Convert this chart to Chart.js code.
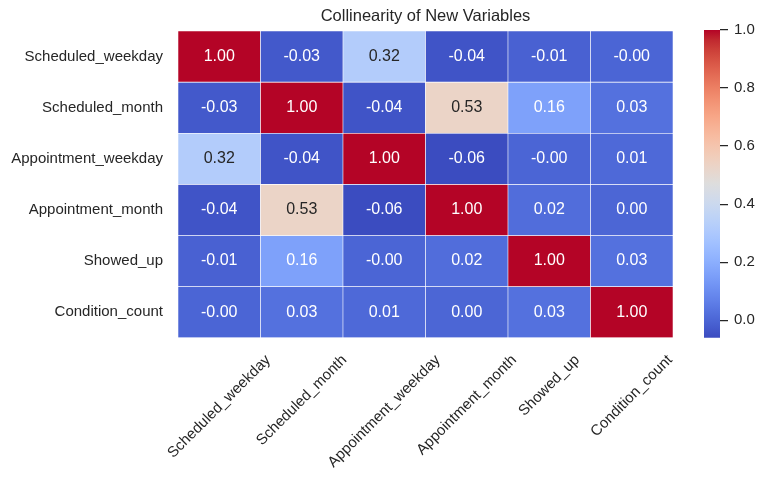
<!DOCTYPE html>
<html>
<head>
<meta charset="utf-8">
<script src="https://cdn.jsdelivr.net/npm/chart.js@4.4.1/dist/chart.umd.min.js"></script>
<style>
    body { margin: 0; background: #fff; }
    #wrap { position: relative; width: 764px; height: 480px; }
    #heat { position: absolute; left: 0; top: 0; }
    #cbar { position: absolute; left: 704px; top: 0; }
</style>
</head>
<body>
<div id="wrap">
    <canvas id="heat" width="764" height="480"></canvas>
    <canvas id="cbar" width="60" height="480"></canvas>
</div>
<script>
const varNames = ['Scheduled_weekday', 'Scheduled_month', 'Appointment_weekday', 'Appointment_month', 'Showed_up', 'Condition_count'];

// correlation rows
const rowScheduledWeekday = [1.00, -0.03, 0.32, -0.04, -0.01, -0.001];
const rowScheduledMonth = [-0.03, 1.00, -0.04, 0.53, 0.16, 0.03];
const rowAppointmentWeekday = [0.32, -0.04, 1.00, -0.06, -0.001, 0.01];
const rowAppointmentMonth = [-0.04, 0.53, -0.06, 1.00, 0.02, 0.001];
const rowShowedUp = [-0.01, 0.16, -0.001, 0.02, 1.00, 0.03];
const rowConditionCount = [-0.001, 0.03, 0.01, 0.001, 0.03, 1.00];
const matrix = [rowScheduledWeekday, rowScheduledMonth, rowAppointmentWeekday, rowAppointmentMonth, rowShowedUp, rowConditionCount];

const colorbarTicks = [0.0, 0.2, 0.4, 0.6, 0.8, 1.0];

const vmin = Math.min(...matrix.flat());
const vmax = Math.max(...matrix.flat());

// matplotlib coolwarm (Moreland table)
const coolwarm = [
    [59, 76, 192], [68, 90, 204], [77, 104, 215], [87, 117, 225], [98, 130, 234], [108, 142, 241],
    [119, 154, 247], [130, 165, 251], [141, 176, 254], [152, 185, 255], [163, 194, 255], [174, 201, 253],
    [184, 208, 249], [194, 213, 244], [204, 217, 238], [213, 219, 230], [221, 221, 221], [229, 216, 209],
    [236, 211, 197], [241, 204, 184], [245, 196, 173], [247, 187, 160], [247, 177, 148], [247, 166, 135],
    [244, 154, 123], [241, 141, 111], [236, 127, 99], [229, 112, 88], [222, 96, 77], [213, 80, 66],
    [203, 62, 56], [192, 40, 47], [180, 4, 38]
];

function cmap(t) {
    t = Math.max(0, Math.min(1, t));
    const pos = t * (coolwarm.length - 1);
    const i = Math.min(Math.floor(pos), coolwarm.length - 2);
    const f = pos - i;
    const a = coolwarm[i], b = coolwarm[i + 1];
    return [0, 1, 2].map(k => Math.round(a[k] + (b[k] - a[k]) * f));
}

function valueColor(v) {
    const c = cmap((v - vmin) / (vmax - vmin));
    return `rgb(${c[0]}, ${c[1]}, ${c[2]})`;
}

// same rule seaborn uses to pick annotation colour
function textColor(v) {
    const c = cmap((v - vmin) / (vmax - vmin)).map(x => {
        x = x / 255;
        return x <= 0.03928 ? x / 12.92 : Math.pow((x + 0.055) / 1.055, 2.4);
    });
    const lum = 0.2126 * c[0] + 0.7152 * c[1] + 0.0722 * c[2];
    return lum > 0.408 ? '#262626' : '#ffffff';
}

const fontFamily = '"Liberation Sans", Arial, sans-serif';

const cellLabels = {
    id: 'cellLabels',
    afterDatasetsDraw(chart) {
        const ctx = chart.ctx;
        ctx.save();
        ctx.font = '16px ' + fontFamily;
        ctx.textAlign = 'center';
        ctx.textBaseline = 'middle';
        chart.data.datasets.forEach((ds, r) => {
            chart.getDatasetMeta(r).data.forEach((bar, j) => {
                const v = matrix[r][j];
                ctx.fillStyle = textColor(v);
                ctx.fillText(v.toFixed(2), bar.x, (bar.y + bar.base) / 2);
            });
        });
        ctx.restore();
    }
};

// x tick labels rotated 45deg about their centre, like matplotlib's ha='center'
const rotatedXLabels = {
    id: 'rotatedXLabels',
    afterDraw(chart) {
        const ctx = chart.ctx;
        const xScale = chart.scales.x;
        const top = chart.chartArea.bottom + 15;
        ctx.save();
        ctx.font = '15px ' + fontFamily;
        ctx.fillStyle = '#262626';
        ctx.textAlign = 'center';
        ctx.textBaseline = 'middle';
        varNames.forEach((name, i) => {
            const w = ctx.measureText(name).width;
            const half = (w + 14) * Math.SQRT1_2 / 2;
            ctx.save();
            ctx.translate(xScale.getPixelForValue(i), top + half);
            ctx.rotate(-Math.PI / 4);
            ctx.fillText(name, 0, 0);
            ctx.restore();
        });
        ctx.restore();
    }
};

const heatDatasets = matrix.map((row, r) => ({
    label: varNames[r],
    data: row.map(() => [r, r + 1]),
    backgroundColor: row.map(v => valueColor(v)),
    borderColor: '#ffffff',
    borderWidth: 0.6,
    borderSkipped: false,
    grouped: false,
    barPercentage: 1,
    categoryPercentage: 1,
}));

const heatChart = new Chart(document.getElementById('heat').getContext('2d'), {
    type: 'bar',
    data: {
        labels: varNames,
        datasets: heatDatasets,
    },
    options: {
        responsive: false,
        animation: false,
        layout: {
            padding: {left: 0, right: 91, top: 0, bottom: 142.3},
        },
        plugins: {
            legend: {display: false},
            tooltip: {enabled: false},
            title: {
                display: true,
                fullSize: false,
                text: 'Collinearity of New Variables',
                color: '#262626',
                font: {family: fontFamily, size: 16.5, weight: 'normal'},
                padding: {top: 6.6, bottom: 4.6},
            },
        },
        scales: {
            x: {
                display: false,
            },
            y: {
                display: false,
                min: 0,
                max: 6,
                reverse: true,
            },
            yl: {
                type: 'category',
                labels: varNames,
                position: 'left',
                offset: true,
                grid: {display: false, drawTicks: false},
                border: {display: false},
                ticks: {
                    color: '#262626',
                    font: {family: fontFamily, size: 15},
                    padding: 15,
                },
                afterFit: (axis) => { axis.width = 178; },
            },
        },
    },
    plugins: [cellLabels, rotatedXLabels],
});

// colour bar
const colorbarChart = new Chart(document.getElementById('cbar').getContext('2d'), {
    type: 'bar',
    data: {
        labels: ['scale'],
        datasets: [{
            data: [[vmin, vmax]],
            borderWidth: 0,
            barPercentage: 1,
            categoryPercentage: 1,
            backgroundColor: (context) => {
                const chart = context.chart;
                const {ctx, chartArea, scales} = chart;
                if (!chartArea) return null;
                const y0 = scales.y.getPixelForValue(vmin);
                const y1 = scales.y.getPixelForValue(vmax);
                const gradient = ctx.createLinearGradient(0, y0, 0, y1);
                coolwarm.forEach((c, i) => {
                    gradient.addColorStop(i / (coolwarm.length - 1), `rgb(${c[0]}, ${c[1]}, ${c[2]})`);
                });
                return gradient;
            },
        }],
    },
    options: {
        responsive: false,
        animation: false,
        layout: {
            padding: {left: 0, right: 0, top: 30, bottom: 142.3},
        },
        plugins: {
            legend: {display: false},
            tooltip: {enabled: false},
        },
        scales: {
            x: {display: false},
            y: {
                position: 'right',
                min: vmin,
                max: vmax,
                grid: {drawOnChartArea: false, drawTicks: true, tickLength: 8, color: '#262626', lineWidth: 1.25},
                border: {display: false},
                afterBuildTicks: (axis) => { axis.ticks = colorbarTicks.map(v => ({value: v})); },
                ticks: {
                    color: '#262626',
                    font: {family: fontFamily, size: 15},
                    padding: 6,
                    callback: (v) => Number(v).toFixed(1),
                },
                afterFit: (axis) => { axis.width = 44; },
            },
        },
    },
});
</script>
</body>
</html>
